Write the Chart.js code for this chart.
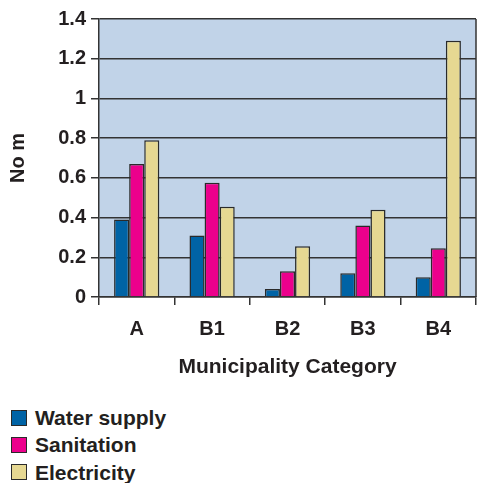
<!DOCTYPE html>
<html>
<head>
<meta charset="utf-8">
<script src="https://cdn.jsdelivr.net/npm/chart.js@4/dist/chart.umd.min.js"></script>
<style>
  html, body { margin: 0; padding: 0; background: #ffffff; }
  #wrap { position: relative; width: 477px; height: 483px; }
  #c { display: block; }
  #legend { position: absolute; left: 11px; top: 404px; font-family: 'Liberation Sans', Arial, sans-serif; }
  .item { display: flex; align-items: center; height: 27.3px; }
  .swatch { width: 14px; height: 14px; border: 1.5px solid #2a2a2a; margin-right: 8px; }
  .label { font-size: 21px; font-weight: bold; color: #231f20; line-height: 1; }
</style>
</head>
<body>
<div id="wrap">
  <canvas id="c" width="477" height="390"></canvas>
  <div id="legend"></div>
</div>
<script>
// Categories and per-service values
const categories = ['A', 'B1', 'B2', 'B3', 'B4'];
const waterSupply = [0.39, 0.31, 0.04, 0.12, 0.10];
const sanitation  = [0.67, 0.575, 0.13, 0.36, 0.245];
const electricity = [0.79, 0.455, 0.255, 0.44, 1.29];

// Value axis ticks
const yTicks = [0, 0.2, 0.4, 0.6, 0.8, 1, 1.2, 1.4];
const yTickLabels = ['0', '0.2', '0.4', '0.6', '0.8', '1', '1.2', '1.4'];

const FONT = "'Liberation Sans', Arial, sans-serif";
const INK = '#231f20';
const LINE = '#333333';

// Fills the plotting area and frames its right edge
const plotFrame = {
  id: 'plotFrame',
  beforeDraw(chart) {
    const a = chart.chartArea, ctx = chart.ctx;
    ctx.save();
    ctx.fillStyle = '#c1d3e8';
    ctx.fillRect(a.left, a.top, a.right - a.left, a.bottom - a.top);
    ctx.restore();
  },
  afterDraw(chart) {
    const a = chart.chartArea, ctx = chart.ctx;
    ctx.save();
    ctx.strokeStyle = LINE;
    ctx.lineWidth = 1.5;
    ctx.beginPath();
    ctx.moveTo(a.right, a.top);
    ctx.lineTo(a.right, a.bottom);
    ctx.stroke();
    ctx.restore();
  }
};

const chart = new Chart(document.getElementById('c'), {
  type: 'bar',
  data: {
    labels: categories,
    datasets: [
      { label: 'Water supply', data: waterSupply, backgroundColor: '#0063a5' },
      { label: 'Sanitation', data: sanitation, backgroundColor: '#ec008c' },
      { label: 'Electricity', data: electricity, backgroundColor: '#e6d892' }
    ]
  },
  options: {
    responsive: false,
    animation: false,
    devicePixelRatio: 1,
    layout: { padding: { top: 19, right: 1, left: 0, bottom: 0 } },
    datasets: {
      bar: {
        borderColor: '#2a2a2a',
        borderWidth: 1.5,
        categoryPercentage: 0.6,
        barPercentage: 1.0
      }
    },
    plugins: {
      legend: { display: false },
      tooltip: { enabled: false }
    },
    scales: {
      x: {
        type: 'category',
        offset: true,
        grid: { offset: true, drawOnChartArea: false, drawTicks: true, tickLength: 8, color: LINE, lineWidth: 1.5 },
        border: { display: true, color: LINE, width: 1.5 },
        ticks: { color: INK, padding: 12, font: { family: FONT, size: 20, weight: 'bold' } },
        title: {
          display: true,
          text: 'Municipality Category',
          color: INK,
          font: { family: FONT, size: 21, weight: 'bold' },
          padding: { top: 10, bottom: 10 }
        },
        afterFit(scale) { scale.height = 93; }
      },
      y: {
        min: 0,
        max: 1.4,
        afterBuildTicks(scale) { scale.ticks = yTicks.map(v => ({ value: v })); },
        grid: { color: LINE, lineWidth: 1.5, tickLength: 8, drawTicks: true },
        border: { display: true, color: LINE, width: 1.5 },
        ticks: {
          color: INK,
          padding: 5,
          font: { family: FONT, size: 20, weight: 'bold' },
          callback(value) {
            const i = yTicks.indexOf(value);
            return i >= 0 ? yTickLabels[i] : '';
          }
        },
        title: {
          display: true,
          text: 'No m',
          color: INK,
          font: { family: FONT, size: 20, weight: 'bold' },
          padding: { top: 6, bottom: 6 }
        },
        afterFit(scale) { scale.width = 99; }
      }
    }
  },
  plugins: [plotFrame]
});

// Vertical legend built from the chart's datasets
const legendEl = document.getElementById('legend');
chart.data.datasets.forEach(ds => {
  const row = document.createElement('div');
  row.className = 'item';
  const sw = document.createElement('span');
  sw.className = 'swatch';
  sw.style.background = ds.backgroundColor;
  const tx = document.createElement('span');
  tx.className = 'label';
  tx.textContent = ds.label;
  row.appendChild(sw);
  row.appendChild(tx);
  legendEl.appendChild(row);
});
</script>
</body>
</html>
